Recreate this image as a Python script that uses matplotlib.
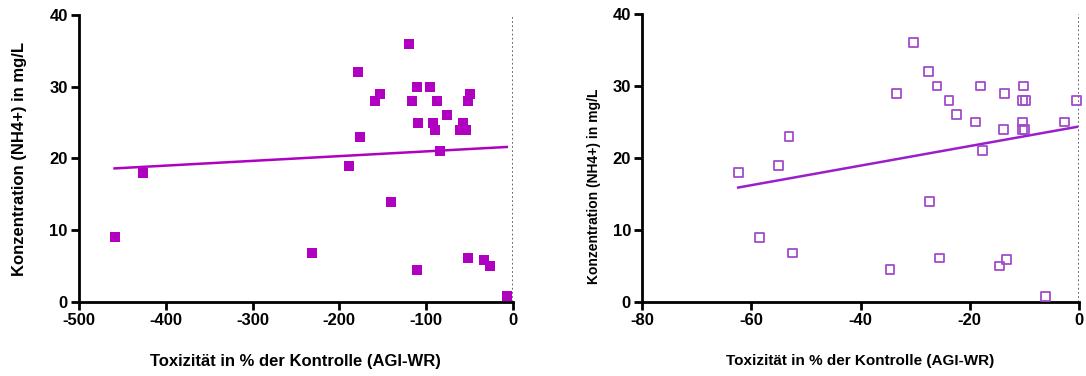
import numpy as np
import matplotlib
matplotlib.use("Agg")
import matplotlib.pyplot as plt

plt.rcParams['font.family'] = ['Liberation Sans', 'DejaVu Sans']
plt.rcParams['font.weight'] = 'bold'
plt.rcParams['axes.unicode_minus'] = False

# linkes Panel: Toxizität (%) vs. NH4+ (mg/L)
tox_left = [-459, -426, -231, -189, -178, -176.5, -159, -153.5, -141, -120,
            -116, -110.5, -109, -111, -96, -88, -92, -89.5, -84.5, -76.5,
            -60.5, -57.5, -54, -52, -50, -51.5, -33.5, -26.5, -7]
conc_left = [9, 18, 6.8, 19, 32, 23, 28, 29, 14, 36,
             28, 30, 25, 4.5, 30, 28, 25, 24, 21, 26,
             24, 25, 24, 28, 29, 6.1, 5.9, 5, 0.8]

# rechtes Panel
tox_right = [-62.4, -58.5, -55, -53.1, -52.5, -34.6, -33.4, -30.3, -27.5, -27.4,
             -26, -25.5, -23.8, -22.5, -18.9, -18.1, -17.7, -14.5, -13.9, -13.7,
             -13.3, -10.4, -10.4, -10, -10.1, -10.4, -9.8, -6.2, -2.7, -0.4]
conc_right = [18, 9, 19, 23, 6.8, 4.5, 29, 36, 32, 14,
              30, 6.1, 28, 26, 25, 30, 21, 5, 24, 29,
              5.9, 25, 24, 24, 30, 28, 28, 0.8, 25, 28]

xticks_left = [-500, -400, -300, -200, -100, 0]
xticks_right = [-80, -60, -40, -20, 0]
yticks = [0, 10, 20, 30, 40]

col_left = '#b000c0'
col_right = '#a24ccc'
col_line_right = '#9a1fcc'

xlabel = 'Toxizität in % der Kontrolle (AGI-WR)'
ylabel = 'Konzentration (NH4+) in mg/L'

fig = plt.figure(figsize=(10.86, 3.76), dpi=100)
ax1 = fig.add_axes([0.0727, 0.197, 0.3996, 0.763])
ax2 = fig.add_axes([0.5912, 0.197, 0.4024, 0.766])


def style_axis(ax, xticks, xlim, ylab_size, xlab_size):
    for s in ['top', 'right']:
        ax.spines[s].set_visible(False)
    for s in ['left', 'bottom']:
        ax.spines[s].set_linewidth(2)
    ax.set_xlim(*xlim)
    ax.set_ylim(0, 40)
    ax.set_xticks(xticks)
    ax.set_yticks(yticks)
    ax.tick_params(direction='out', length=6, width=2, labelsize=12, pad=2)
    ax.axvline(0, color='#444444', linestyle=(0, (1, 1.5)), linewidth=1.2, zorder=0)
    ax.set_xlabel(xlabel, fontsize=xlab_size, fontweight='bold', labelpad=19)
    ax.set_ylabel(ylabel, fontsize=ylab_size, fontweight='bold', labelpad=16)


# links: gefüllte Quadrate
ax1.scatter(tox_left, conc_left, marker='s', s=44, color=col_left,
            linewidths=0, clip_on=False, zorder=3)
k, d = np.polyfit(tox_left, conc_left, 1)
xx = np.array([min(tox_left), max(tox_left)])
ax1.plot(xx, k * xx + d, color=col_left, linewidth=1.8, zorder=2)
style_axis(ax1, xticks_left, (-500, 0), 12, 12)

# rechts: offene Quadrate
ax2.scatter(tox_right, conc_right, marker='s', s=40, facecolors='none',
            edgecolors=col_right, linewidths=1.3, clip_on=False, zorder=3)
k2, d2 = np.polyfit(tox_right, conc_right, 1)
xx2 = np.array([min(tox_right), max(tox_right)])
ax2.plot(xx2, k2 * xx2 + d2, color=col_line_right, linewidth=1.8, zorder=2)
style_axis(ax2, xticks_right, (-80, 0), 10, 11)
ax2.yaxis.set_label_coords(-0.095, 0.4)

fig.savefig('out.png', dpi=100)
